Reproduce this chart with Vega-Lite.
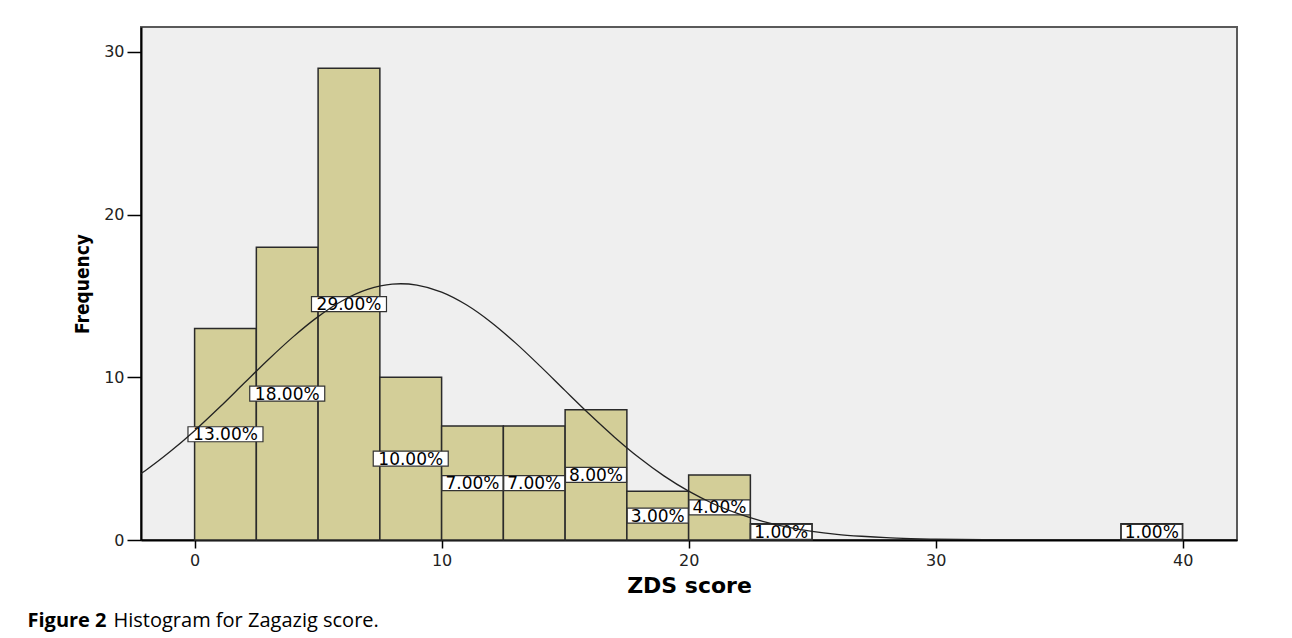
{
  "$schema": "https://vega.github.io/schema/vega-lite/v6.json",
  "width": 1096,
  "height": 513,
  "autosize": {"type": "none"},
  "padding": {"left": 141, "top": 27, "right": 55, "bottom": 98},
  "background": "white",
  "config": {"view": {"fill": "#efefef", "stroke": "#5a5a5a", "strokeWidth": 2}},
  "datasets": {
    "bins": [
      {"bin_start": 0, "bin_end": 2.5, "mid": 1.25, "count": 13, "pct": 0.13},
      {"bin_start": 2.5, "bin_end": 5, "mid": 3.75, "count": 18, "pct": 0.18},
      {"bin_start": 5, "bin_end": 7.5, "mid": 6.25, "count": 29, "pct": 0.29},
      {"bin_start": 7.5, "bin_end": 10, "mid": 8.75, "count": 10, "pct": 0.10},
      {"bin_start": 10, "bin_end": 12.5, "mid": 11.25, "count": 7, "pct": 0.07},
      {"bin_start": 12.5, "bin_end": 15, "mid": 13.75, "count": 7, "pct": 0.07},
      {"bin_start": 15, "bin_end": 17.5, "mid": 16.25, "count": 8, "pct": 0.08},
      {"bin_start": 17.5, "bin_end": 20, "mid": 18.75, "count": 3, "pct": 0.03},
      {"bin_start": 20, "bin_end": 22.5, "mid": 21.25, "count": 4, "pct": 0.04},
      {"bin_start": 22.5, "bin_end": 25, "mid": 23.75, "count": 1, "pct": 0.01},
      {"bin_start": 37.5, "bin_end": 40, "mid": 38.75, "count": 1, "pct": 0.01}
    ],
    "curve": [
      {"x": -2.17, "y": 4.08}, {"x": -2, "y": 4.26}, {"x": -1, "y": 5.42}, {"x": 0, "y": 6.72},
      {"x": 1, "y": 8.14}, {"x": 2, "y": 9.63}, {"x": 3, "y": 11.11}, {"x": 4, "y": 12.5},
      {"x": 5, "y": 13.73}, {"x": 6, "y": 14.72}, {"x": 7, "y": 15.4}, {"x": 8, "y": 15.73},
      {"x": 8.35, "y": 15.75}, {"x": 9, "y": 15.67}, {"x": 10, "y": 15.24}, {"x": 11, "y": 14.46},
      {"x": 12, "y": 13.39}, {"x": 13, "y": 12.1}, {"x": 14, "y": 10.67}, {"x": 15, "y": 9.18},
      {"x": 16, "y": 7.71}, {"x": 17, "y": 6.32}, {"x": 18, "y": 5.05}, {"x": 19, "y": 3.94},
      {"x": 20, "y": 3.0}, {"x": 21, "y": 2.23}, {"x": 22, "y": 1.62}, {"x": 23, "y": 1.15},
      {"x": 24, "y": 0.79}, {"x": 25, "y": 0.53}, {"x": 26, "y": 0.35}, {"x": 27, "y": 0.23},
      {"x": 28, "y": 0.14}, {"x": 29, "y": 0.087}, {"x": 30, "y": 0.052}, {"x": 31, "y": 0.03},
      {"x": 32, "y": 0.017}, {"x": 33, "y": 0.0095}, {"x": 34, "y": 0.005}, {"x": 35, "y": 0.0025},
      {"x": 36, "y": 0.0012}, {"x": 38, "y": 0.0002}, {"x": 40, "y": 0}, {"x": 42.2, "y": 0}
    ]
  },
  "resolve": {"scale": {"y": "independent", "x": "independent"}},
  "layer": [
    {
      "data": {"name": "bins"},
      "mark": {"type": "bar", "fill": "#d3ce98", "stroke": "#2a2a2a", "strokeWidth": 1.5},
      "encoding": {
        "x": {
          "field": "bin_start", "type": "quantitative",
          "scale": {"domain": [-2.17, 42.2], "nice": false, "zero": false},
          "axis": {
            "values": [0, 10, 20, 30, 40], "title": "ZDS score", "grid": false,
            "titleFont": "DejaVu Sans", "titleFontSize": 22, "titleFontWeight": "bold", "titleColor": "black",
            "titleY": 52, "titleBaseline": "alphabetic",
            "labelFont": "DejaVu Sans", "labelFontSize": 16, "labelColor": "#222", "labelPadding": 4, "labelFlush": false,
            "tickSize": 8, "tickColor": "black", "tickWidth": 1.5, "domainColor": "black", "domainWidth": 2
          }
        },
        "x2": {"field": "bin_end"},
        "y": {
          "field": "count", "type": "quantitative",
          "scale": {"domain": [0, 31.53], "nice": false},
          "axis": {
            "values": [0, 10, 20, 30], "title": "Frequency", "grid": false,
            "titleFont": "DejaVu Sans Condensed", "titleFontSize": 19, "titleFontWeight": "bold", "titleColor": "black",
            "titleX": -53, "titleY": 256.5, "titleBaseline": "alphabetic", "titleAngle": 270,
            "labelFont": "DejaVu Sans", "labelFontSize": 16, "labelColor": "#222", "labelPadding": 3,
            "tickSize": 14, "tickColor": "black", "tickWidth": 1.5, "domainColor": "black", "domainWidth": 2
          }
        },
        "y2": {"datum": 0}
      }
    },
    {
      "data": {"name": "bins"},
      "mark": {"type": "point", "filled": true, "fill": "white", "stroke": "#333", "strokeWidth": 1.2, "opacity": 1},
      "encoding": {
        "x": {"field": "mid", "type": "quantitative", "scale": {"domain": [-2.17, 42.2], "nice": false, "zero": false}, "axis": null},
        "y": {"field": "count", "type": "quantitative", "scale": {"domain": [0, 63.06], "nice": false}, "axis": null},
        "shape": {"condition": {"test": "datum.count >= 10", "value": "M-1,-0.2H1V0.2H-1Z"}, "value": "M-1,-0.246H1V0.246H-1Z"},
        "size": {"condition": {"test": "datum.count >= 10", "value": 5625}, "value": 3721}
      }
    },
    {
      "data": {"name": "bins"},
      "mark": {"type": "text", "font": "DejaVu Sans", "fontSize": 17, "fill": "black", "align": "center", "baseline": "middle", "dy": 1},
      "encoding": {
        "x": {
          "field": "mid", "type": "quantitative",
          "scale": {"domain": [-2.17, 42.2], "nice": false, "zero": false},
          "axis": {
            "orient": "top", "title": "Histogram for Zagazig score.", "domain": false, "ticks": false, "labels": false, "grid": false,
            "titleFont": "Open Sans", "titleFontSize": 20, "titleFontWeight": "normal", "titleColor": "black",
            "titleX": -28, "titleY": 599, "titleAlign": "left", "titleBaseline": "alphabetic", "titleAnchor": "start"
          }
        },
        "y": {"field": "count", "type": "quantitative", "scale": {"domain": [0, 63.06], "nice": false}, "axis": null},
        "text": {"field": "pct", "type": "quantitative", "format": ".2%"}
      }
    },
    {
      "data": {"name": "curve"},
      "mark": {"type": "line", "interpolate": "monotone", "stroke": "#222", "strokeWidth": 1.3, "clip": true},
      "encoding": {
        "x": {
          "field": "x", "type": "quantitative",
          "scale": {"domain": [-2.17, 42.2], "nice": false, "zero": false},
          "axis": {
            "orient": "top", "title": "Figure 2", "domain": false, "ticks": false, "labels": false, "grid": false,
            "titleFont": "Open Sans", "titleFontSize": 20, "titleFontWeight": "bold", "titleColor": "black",
            "titleX": -114, "titleY": 599, "titleAlign": "left", "titleBaseline": "alphabetic", "titleAnchor": "start"
          }
        },
        "y": {"field": "y", "type": "quantitative", "scale": {"domain": [0, 31.53], "nice": false}, "axis": null}
      }
    }
  ]
}
